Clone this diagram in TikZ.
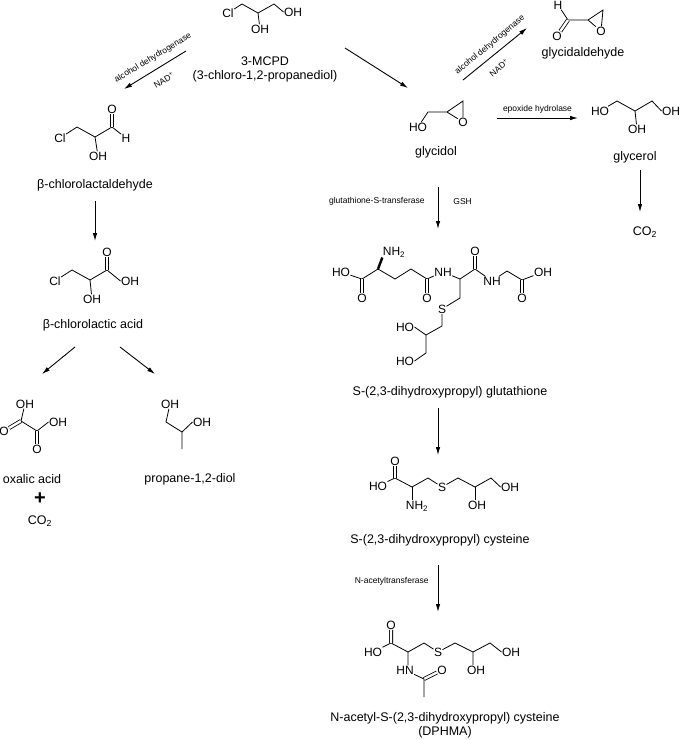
\documentclass[tikz,border=0pt]{standalone}
\usepackage{fontspec}
\setmainfont{Liberation Sans}
\usetikzlibrary{arrows.meta,positioning}
\tikzset{
    %Define standard arrow tip
    >={Latex[length=8pt,width=4.5pt]},
    %Define style for atoms and names
    atom/.style={
           inner sep=0.3pt,
           font=\fontsize{12}{13}\selectfont},
    molname/.style={
           inner sep=1pt,
           align=center,
           font=\fontsize{12.5}{14}\selectfont},
    enzyme/.style={
           inner sep=1pt,
           font=\fontsize{8.5}{9}\selectfont},
    % Define bond styles
    bond/.style={
           line width=0.8pt},
    dbond/.style={
           double, double distance=2.4pt,
           line width=0.8pt},
    wedge/.style={
           line width=2.4pt},
    % Define arrow style
    react/.style={
           ->,
           line width=0.9pt}
}
\begin{document}
\begin{tikzpicture}[x=1pt,y=-1pt]
\useasboundingbox (0,0) rectangle (685,740);
 %3-MCPD
    \node[atom] (mcl) at (228,13) {Cl};
    \coordinate (m1) at (242,4);
    \coordinate (m2) at (258,13);
    \coordinate (m3) at (274,4);
    \node[atom] (moh) at (293,12) {OH};
    \node[atom] (mo2) at (260,29) {OH};
    \draw[bond] (mcl) -- (m1) -- (m2) -- (m3) -- (moh.west);
    \draw[bond] (m2) -- (mo2);
    \node[molname] (mcpd) at (265,69) {3-MCPD\\(3-chloro-1,2-propanediol)};
 %beta-chlorolactaldehyde
    \node[atom] (acl) at (60,138) {Cl};
    \coordinate (a1) at (77,127);
    \coordinate (a2) at (95,137);
    \coordinate (a3) at (112,127);
    \node[atom] (ao) at (112,109) {O};
    \node[atom] (ah) at (126,138) {H};
    \node[atom] (aoh) at (98,156) {OH};
    \draw[bond] (acl) -- (a1) -- (a2) -- (a3) -- (ah);
    \draw[dbond] (a3) -- (ao);
    \draw[bond] (a2) -- (aoh);
    \node[molname] (ald) at (95,185) {β-chlorolactaldehyde};
 %beta-chlorolactic acid
    \node[atom] (bcl) at (55,281) {Cl};
    \coordinate (b1) at (72,270);
    \coordinate (b2) at (90,280);
    \coordinate (b3) at (107,270);
    \node[atom] (bo) at (107,252) {O};
    \node[atom] (bo1) at (130,281) {OH};
    \node[atom] (boh) at (92,299) {OH};
    \draw[bond] (bcl) -- (b1) -- (b2) -- (b3) -- (bo1.west);
    \draw[dbond] (b3) -- (bo);
    \draw[bond] (b2) -- (boh);
    \node[molname] (lac) at (93,325) {β-chlorolactic acid};
 %oxalic acid
    \node[atom] (xo) at (4,431) {O};
    \coordinate (x1) at (21,421);
    \node[atom] (xoh) at (25,404) {OH};
    \coordinate (x2) at (37,431);
    \node[atom] (xoh2) at (58,422) {OH};
    \node[atom] (xo2) at (37,449) {O};
    \draw[dbond] (x1) -- (xo);
    \draw[bond] (x1) -- (xoh) (x1) -- (x2) -- (xoh2.west);
    \draw[dbond] (x2) -- (xo2);
    \node[molname] (oxa) at (32,479) {oxalic acid};
    \node[molname, font=\fontsize{20}{20}\selectfont\bfseries] (plus) at (40,499) {+};
    \node[molname] (co2a) at (40,521) {CO\textsubscript{2}};
 %propane-1,2-diol
    \node[atom] (poh) at (170,404) {OH};
    \coordinate (p1) at (166,422);
    \coordinate (p2) at (182,432);
    \node[atom] (poh2) at (202,422) {OH};
    \coordinate (p3) at (182,449);
    \draw[bond] (poh) -- (p1) -- (p2) -- (poh2.west) (p2) -- (p3);
    \node[molname] (pdo) at (190,479) {propane-1,2-diol};
 %glycidol
    \node[atom] (ghoa) at (418,127) {HO};
    \coordinate (g1) at (428,112);
    \coordinate (g2) at (447,112);
    \coordinate (g3) at (463,101);
    \node[atom] (go) at (463,122) {O};
    \draw[bond] (ghoa) -- (g1) -- (g2) -- (g3) -- (go) -- (g2);
    \node[molname] (gly) at (436,152) {glycidol};
 %glycidaldehyde
    \node[atom] (dh) at (558,5) {H};
    \coordinate (d1) at (568,20);
    \node[atom] (do) at (557,36) {O};
    \coordinate (d2) at (588,20);
    \coordinate (d3) at (603,10);
    \node[atom] (dor) at (601,31) {O};
    \draw[bond] (dh) -- (d1) -- (d2) -- (d3) -- (dor) -- (d2);
    \draw[dbond] (d1) -- (do);
    \node[molname] (gald) at (583,53) {glycidaldehyde};
 %glycerol
    \node[atom] (ycl) at (600,111) {HO};
    \coordinate (y1) at (617,101);
    \coordinate (y2) at (635,111);
    \coordinate (y3) at (652,101);
    \node[atom] (yoh) at (671,111) {OH};
    \node[atom] (yoh2) at (637,129) {OH};
    \draw[bond] (ycl) -- (y1) -- (y2) -- (y3) -- (yoh.west) (y2) -- (yoh2);
    \node[molname] (glyc) at (635,157) {glycerol};
    \node[molname] (co2b) at (645,232) {CO\textsubscript{2}};
 %glutathione conjugate
    \node[atom] (tho) at (341,272) {HO};
    \coordinate (t1) at (362,279);
    \node[atom] (to1) at (362,298) {O};
    \coordinate (t2) at (378,269);
    \node[atom] (tnh) at (394,252) {NH\textsubscript{2}};
    \coordinate (t3) at (395,279);
    \coordinate (t4) at (411,269);
    \coordinate (t5) at (427,279);
    \node[atom] (to2) at (427,298) {O};
    \node[atom] (tn1) at (443,272) {NH};
    \coordinate (t6) at (460,279);
    \coordinate (t7) at (475,269);
    \node[atom] (to3) at (475,251) {O};
    \node[atom] (tn2) at (492,281) {NH};
    \coordinate (t8) at (507,271);
    \coordinate (t9) at (522,280);
    \node[atom] (to4) at (522,298) {O};
    \node[atom] (toh) at (543,272) {OH};
    \coordinate (t10) at (460,298);
    \node[atom] (ts) at (442,309) {S};
    \coordinate (t11) at (442,326);
    \coordinate (t12) at (426,335);
    \node[atom] (tho2) at (405,327) {HO};
    \coordinate (t13) at (426,353);
    \node[atom] (tho3) at (405,361) {HO};
    \draw[bond] (tho) -- (t1) -- (t2) -- (t3) -- (t4) -- (t5) -- (tn1) -- (t6) -- (t7) -- (tn2) -- (t8) -- (t9) -- (toh);
    \draw[wedge] (t2) -- (tnh.south west);
    \draw[dbond] (t1) -- (to1) (t5) -- (to2) (t7) -- (to3) (t9) -- (to4);
    \draw[bond] (t6) -- (t10) -- (ts) -- (t11) -- (t12) -- (tho2.east) (t12) -- (t13) -- (tho3.east);
    \node[molname] (gsh) at (450,392) {S-(2,3-dihydroxypropyl) glutathione};
 %cysteine conjugate
    \node[atom] (cho) at (378,486) {HO};
    \coordinate (c1) at (395,478);
    \node[atom] (co) at (395,461) {O};
    \coordinate (c2) at (412,487);
    \node[atom] (cnh) at (417,506) {NH\textsubscript{2}};
    \coordinate (c3) at (428,478);
    \node[atom] (cs) at (442,487) {S};
    \coordinate (c4) at (458,478);
    \coordinate (c5) at (475,487);
    \node[atom] (coh2) at (477,505) {OH};
    \coordinate (c6) at (491,478);
    \node[atom] (coh) at (510,487) {OH};
    \draw[bond] (cho) -- (c1) -- (c2) -- (c3) -- (cs) -- (c4) -- (c5) -- (c6) -- (coh.west);
    \draw[dbond] (c1) -- (co);
    \draw[bond] (c2) -- (c2 |- cnh.north) (c5) -- (c5 |- coh2.north);
    \node[molname] (cys) at (440,540) {S-(2,3-dihydroxypropyl) cysteine};
 %DPHMA
    \node[atom] (eho) at (373,652) {HO};
    \coordinate (e1) at (391,643);
    \node[atom] (eo) at (391,625) {O};
    \coordinate (e2) at (408,652);
    \node[atom] (enh) at (405,670) {HN};
    \coordinate (e3) at (424,643);
    \node[atom] (es) at (438,652) {S};
    \coordinate (e4) at (455,643);
    \coordinate (e5) at (473,652);
    \node[atom] (eoh2) at (476,670) {OH};
    \coordinate (e6) at (490,643);
    \node[atom] (eoh) at (511,652) {OH};
    \coordinate (e7) at (424,679);
    \node[atom] (eo2) at (442,670) {O};
    \coordinate (e8) at (424,697);
    \draw[bond] (eho) -- (e1) -- (e2) -- (e3) -- (es) -- (e4) -- (e5) -- (e6) -- (eoh.west);
    \draw[dbond] (e1) -- (eo) (e7) -- (eo2);
    \draw[bond] (e2) -- (e2 |- enh.north) (enh) -- (e7) -- (e8) (e5) -- (e5 |- eoh2.north);
    \node[molname] (dphma) at (445,725) {N-acetyl-S-(2,3-dihydroxypropyl) cysteine\\(DPHMA)};
 %arrows
    \draw[react] (186,51) -- (124,89);
    \node[enzyme, rotate=31] (adh1) at (153,58) {alcohol dehydrogenase};
    \node[enzyme, rotate=31] (nad1) at (164,80) {NAD\textsuperscript{+}};
    \draw[react] (ald) ++(0,16) -- ++(0,40);
    \draw[react] (lac) ++(-18,22) -- ++(-33,27);
    \draw[react] (lac) ++(27,22) -- ++(35,27);
    \draw[react] (mcpd) ++(80,-21) -- (408,88);
    \draw[react] (463,80) -- (527,28);
    \node[enzyme, rotate=40] (adh2) at (490,45) {alcohol dehydrogenase};
    \node[enzyme, rotate=40] (nad2) at (499,68) {NAD\textsuperscript{+}};
    \draw[react] (497,118) -- (578,118)
        node[enzyme, midway, above=3pt] {epoxide hydrolase};
    \draw[react] (glyc) ++(5,13) -- ++(0,42);
    \draw[react] (gly) ++(2,35) -- ++(0,42)
        node[enzyme, pos=0.35, left=12pt] {glutathione-S-transferase}
        node[enzyme, pos=0.35, right=14pt] {GSH};
    \draw[react] (gsh) ++(-12,16) -- ++(0,47);
    \draw[react] (cys) ++(-2,25) -- ++(0,47)
        node[enzyme, pos=0.35, left=8pt] {N-acetyltransferase};
\end{tikzpicture}
\end{document}
